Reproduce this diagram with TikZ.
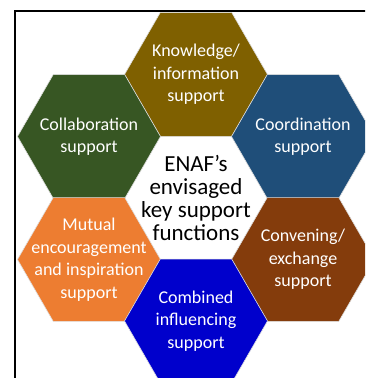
\documentclass[tikz,border=0pt]{standalone}
\usepackage{fontspec}
\setmainfont{Carlito}
\usetikzlibrary{shapes.geometric}

\definecolor{knowbrown}{HTML}{7F6000}
\definecolor{collabgreen}{HTML}{375623}
\definecolor{coordblue}{HTML}{1F4E79}
\definecolor{convbrown}{HTML}{843C0C}
\definecolor{mutualorange}{HTML}{ED7D31}
\definecolor{combblue}{HTML}{0000CC}

\begin{document}
\begin{tikzpicture}[x=1pt,y=1pt]
	\tikzstyle{hex} = [draw=white!75!gray, line width=0.6pt, regular polygon, regular polygon sides=6, minimum size=143pt, inner sep=0pt]
	\tikzstyle{hex_text} = [text=white, align=center, font=\fontsize{18}{22.5}\selectfont]
	\tikzstyle{core_text} = [text=black, align=center, font=\fontsize{23}{23}\selectfont]
	\useasboundingbox (0,0) rectangle (365,378);
	\clip (0,0) rectangle (365,378);
	% Frame
	\draw[line width=2pt] (15,-10) rectangle (380,366.7);

	% Hexagons
	\node[hex, fill=white] (core) at (196,180) {};
	\node[hex, fill=knowbrown] (know) at (196,303.5) {};
	\node[hex, fill=collabgreen] (collab) at (89,241.5) {};
	\node[hex, fill=coordblue] (coord) at (303,241.5) {};
	\node[hex, fill=mutualorange] (mutual) at (89,118.5) {};
	\node[hex, fill=convbrown] (conv) at (303,118.5) {};
	\node[hex, fill=combblue] (comb) at (196,57) {};

	% Label hexagons
	\node[core_text] (core_text) at (core) {ENAF’s\\envisaged\\key support\\functions};
	\node[hex_text] (know_text) at (know) {Knowledge/\\information\\support};
	\node[hex_text] (collab_text) at (collab) {Collaboration\\support};
	\node[hex_text] (coord_text) at (coord) {Coordination\\support};
	\node[hex_text] (mutual_text) at (mutual) {Mutual\\encouragement\\and inspiration\\support};
	\node[hex_text] (conv_text) at (conv) {Convening/\\exchange\\support};
	\node[hex_text] (comb_text) at (comb) {Combined\\influencing\\support};
\end{tikzpicture}
\end{document}
